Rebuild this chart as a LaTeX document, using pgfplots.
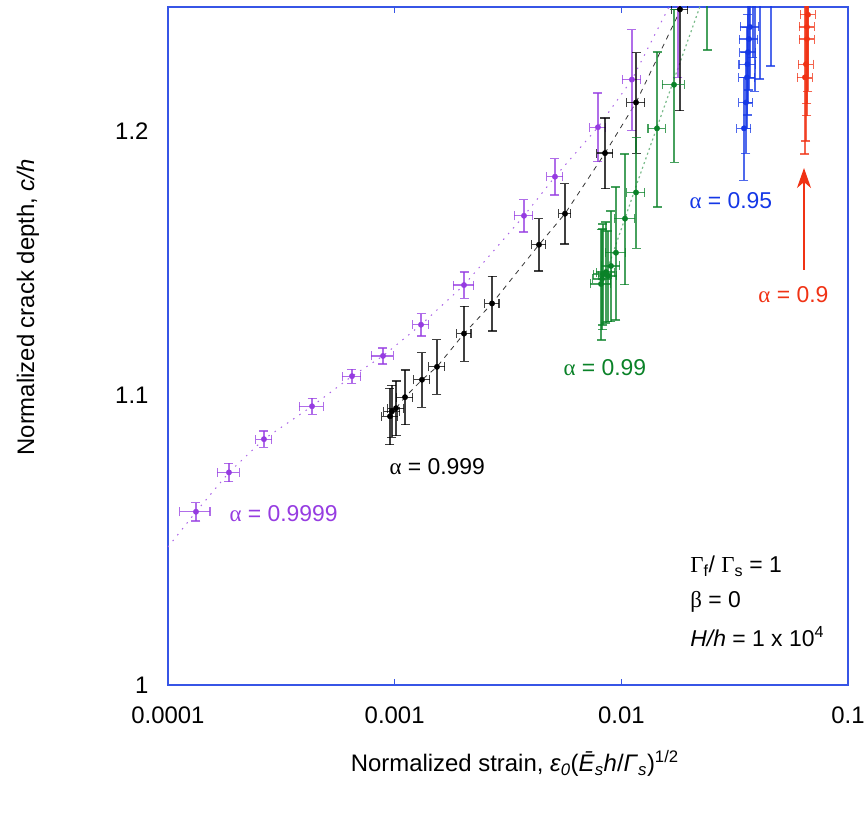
\documentclass[border=0pt]{standalone}
\usepackage{pgfplots}
\pgfplotsset{compat=1.18}
\usetikzlibrary{arrows.meta}
\usepackage{fontspec}
\setmainfont{Liberation Sans}
\newfontfamily\grk{Liberation Serif}
\definecolor{frameblue}{RGB}{55,85,230}
\definecolor{cpurple}{RGB}{150,60,225}
\definecolor{cgreen}{RGB}{10,130,40}
\definecolor{cblue}{RGB}{20,55,230}
\definecolor{cred}{RGB}{240,50,20}
\pgfplotsset{
  ebars/.style={only marks, mark=*, mark size=2.7bp, color=#1,
    error bars/.cd, x dir=both, x explicit relative, y dir=both, y explicit relative,
    error bar style={#1, opacity=0.75, line width=1.3bp},
    error mark options={rotate=90, mark size=4.5bp, #1, opacity=0.75, line width=1.3bp}}
}
\begin{document}
\begin{tikzpicture}
\useasboundingbox (-168bp,-139bp) rectangle (698bp,685bp);
\begin{axis}[
  at={(0,0)}, anchor=south west,
  scale only axis, width=680bp, height=678bp,
  xmode=log, ymode=log,
  xmin=1e-4, xmax=0.1, ymin=1, ymax=1.25,
  xtick={1e-4,1e-3,1e-2,1e-1},
  xticklabels={0.0001,0.001,0.01,0.1},
  ytick={1,1.1,1.2},
  yticklabels={1,1.1,1.2},
  xminorticks=false, yminorticks=false,
  axis line style={draw=frameblue, line width=1.2bp},
  tick align=inside,
  xtick style={draw=frameblue, line width=1bp},
  ytick style={draw=none},
  major tick length=6bp,
  /pgf/number format/assume math mode=true,
  tick label style={font=\fontsize{24}{28}\selectfont},
  xticklabel style={yshift=-18bp},
  yticklabel style={xshift=-16bp},
  label style={font=\fontsize{24}{28}\selectfont},
  xlabel={Normalized strain, \textit{ε}\textsubscript{\textit{0}}(\textit{Ē}\textsubscript{\textit{s}}\textit{h}/\textit{Γ}\textsubscript{\textit{s}})\textsuperscript{1/2}},
  xlabel style={at={(axis description cs:0.51,-0.128)}, anchor=base},
  ylabel={Normalized crack depth, \textit{c/h}},
  ylabel style={at={(axis description cs:-0.206,0.557)}, anchor=center},
]
% model curves
\addplot[cpurple!80, line width=1bp, dash pattern=on 1.5bp off 6bp] coordinates {
(1e-4,1.0465) (1.329e-4,1.0587) (1.858e-4,1.0725) (2.651e-4,1.0843) (4.319e-4,1.0961)
(6.482e-4,1.1070) (8.882e-4,1.1144) (1.307e-3,1.1259) (2.023e-3,1.1407) (3.721e-3,1.1670)
(5.097e-3,1.1821) (7.889e-3,1.2015) (1.114e-2,1.2205) (1.815e-2,1.2590)};
\addplot[black!80, line width=0.8bp, dash pattern=on 5bp off 5bp] coordinates {
(1.014e-3,1.0954) (1.111e-3,1.0994) (1.320e-3,1.1057) (1.537e-3,1.1104) (2.023e-3,1.1226)
(2.689e-3,1.1338) (4.332e-3,1.1559) (5.641e-3,1.1678) (8.472e-3,1.1913) (1.161e-2,1.2113)
(2.009e-2,1.2570)};
\addplot[cgreen!55, line width=1.2bp, dash pattern=on 2bp off 3bp] coordinates {
(8.30e-3,1.1418) (1.173e-2,1.1795) (2.316e-2,1.2549)};
% alpha = 0.9999
\addplot[ebars=cpurple] coordinates {
(1.329e-4,1.0587) +- (0.153,0.0030)
(1.858e-4,1.0725) +- (0.112,0.0030)
(2.651e-4,1.0843) +- (0.082,0.00265)
(4.319e-4,1.0961) +- (0.122,0.00265)
(6.482e-4,1.1070) +- (0.092,0.0023)
(8.882e-4,1.1144) +- (0.112,0.00265)
(1.307e-3,1.1259) +- (0.082,0.00365)
(2.023e-3,1.1407) +- (0.102,0.0043)
(3.721e-3,1.1670) +- (0.092,0.0053)
(5.097e-3,1.1821) +- (0.082,0.0060)
(7.889e-3,1.2015) +- (0.082,0.0113)
(1.114e-2,1.2205) +- (0.092,0.0166)
(1.778e-2,1.2633) +- (0.082,0.0332)};
% alpha = 0.999
\addplot[ebars=black] coordinates {
(9.537e-4,1.0925) +- (0.082,0.0093)
(9.732e-4,1.0943) +- (0.082,0.0086)
(1.014e-3,1.0954) +- (0.082,0.0090)
(1.111e-3,1.0994) +- (0.082,0.0090)
(1.320e-3,1.1057) +- (0.082,0.0090)
(1.537e-3,1.1104) +- (0.082,0.0090)
(2.023e-3,1.1226) +- (0.072,0.0090)
(2.689e-3,1.1338) +- (0.072,0.0090)
(4.332e-3,1.1559) +- (0.072,0.0086)
(5.641e-3,1.1678) +- (0.061,0.0099)
(8.472e-3,1.1913) +- (0.082,0.0116)
(1.161e-2,1.2113) +- (0.092,0.0166)
(1.815e-2,1.2490) +- (0.082,0.0328)};
% alpha = 0.99
\addplot[ebars=cgreen] coordinates {
(8.135e-3,1.1411) +- (0.102,0.0182)
(8.218e-3,1.1430) +- (0.092,0.0166)
(8.299e-3,1.1448) +- (0.092,0.0166)
(8.556e-3,1.1456) +- (0.092,0.0166)
(8.733e-3,1.1441) +- (0.092,0.0149)
(9.003e-3,1.1479) +- (0.092,0.0182)
(9.470e-3,1.1529) +- (0.102,0.0219)
(1.038e-2,1.1659) +- (0.102,0.0215)
(1.161e-2,1.1760) +- (0.092,0.0182)
(1.437e-2,1.2011) +- (0.087,0.0255)
(1.708e-2,1.2184) +- (0.112,0.0252)
(2.388e-2,1.2655) +- (0.092,0.0262)};
% alpha = 0.95
\addplot[ebars=cblue] coordinates {
(3.476e-2,1.2011) +- (0.071,0.0169)
(3.548e-2,1.2113) +- (0.071,0.0166)
(3.584e-2,1.2214) +- (0.082,0.0166)
(3.600e-2,1.2267) +- (0.082,0.0166)
(3.621e-2,1.2316) +- (0.082,0.0166)
(3.658e-2,1.2369) +- (0.092,0.0166)
(3.695e-2,1.2418) +- (0.092,0.0166)
(3.809e-2,1.2521) +- (0.071,0.0182)
(3.887e-2,1.2571) +- (0.071,0.0328)
(4.089e-2,1.2613) +- (0.071,0.0322)
(4.574e-2,1.2655) +- (0.071,0.0312)};
% alpha = 0.9
\addplot[ebars=cred] coordinates {
(6.460e-2,1.2214) +- (0.076,0.0249)
(6.526e-2,1.2267) +- (0.076,0.0249)
(6.593e-2,1.2369) +- (0.076,0.0249)
(6.593e-2,1.2418) +- (0.076,0.0249)
(6.660e-2,1.2468) +- (0.076,0.0249)
(6.660e-2,1.2521) +- (0.076,0.0249)};
% annotations
\node[anchor=west, text=cpurple, font=\fontsize{23}{27}\selectfont] at (axis description cs:0.0853,0.2522) {{\grk α} = 0.9999};
\node[anchor=west, text=black, font=\fontsize{23}{27}\selectfont] at (axis description cs:0.3206,0.3215) {{\grk α} = 0.999};
\node[anchor=west, text=cgreen, font=\fontsize{23}{27}\selectfont] at (axis description cs:0.5765,0.4676) {{\grk α} = 0.99};
\node[anchor=west, text=cblue, font=\fontsize{23}{27}\selectfont] at (axis description cs:0.7618,0.7139) {{\grk α} = 0.95};
\node[anchor=west, text=cred, font=\fontsize{23}{27}\selectfont] at (axis description cs:0.8632,0.5752) {{\grk α} = 0.9};
\draw[cred, line width=1.2bp, -{Stealth[length=20bp,width=14bp,inset=6bp]}] (axis description cs:0.9353,0.6121) -- (axis description cs:0.9353,0.7625);
\node[anchor=west, font=\fontsize{23}{27}\selectfont] at (axis description cs:0.763,0.1755) {{\grk Γ}\textsubscript{f}/ {\grk Γ}\textsubscript{s} = 1};
\node[anchor=west, font=\fontsize{23}{27}\selectfont] at (axis description cs:0.763,0.1224) {{\grk β} = 0};
\node[anchor=west, font=\fontsize{23}{27}\selectfont] at (axis description cs:0.763,0.0708) {\textit{H/h} = 1 x 10\textsuperscript{4}};
\end{axis}
\end{tikzpicture}
\end{document}
